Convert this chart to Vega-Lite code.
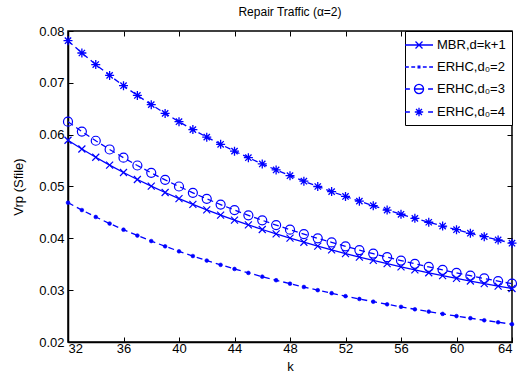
{
  "$schema": "https://vega.github.io/schema/vega-lite/v6.json",
  "width": 444,
  "height": 311,
  "autosize": {"type": "none"},
  "padding": {"left": 68, "top": 31, "right": 6, "bottom": 34},
  "background": "white",
  "title": {"text": "Repair Traffic (α=2)", "fontSize": 12, "fontWeight": "normal", "font": "Liberation Sans", "color": "black", "offset": 6},
  "config": {
    "font": "Liberation Sans",
    "view": {"stroke": "black", "strokeWidth": 1.5},
    "axis": {"grid": false, "domainColor": "black", "domainWidth": 1.5, "tickColor": "black", "tickWidth": 1, "labelColor": "black", "labelFontSize": 13, "titleFontSize": 13, "titleFontWeight": "normal", "titleColor": "black", "labelFont": "Liberation Sans", "titleFont": "Liberation Sans", "tickSize": -5, "labelPadding": 9},
    "axisLeft": {"titleX": -43}
  },
  "data": {"values": [
    {"k":32,"s":"MBR,d=k+1","v":0.058929},{"k":33,"s":"MBR,d=k+1","v":0.057239},{"k":34,"s":"MBR,d=k+1","v":0.055644},{"k":35,"s":"MBR,d=k+1","v":0.054135},{"k":36,"s":"MBR,d=k+1","v":0.052707},{"k":37,"s":"MBR,d=k+1","v":0.051351},{"k":38,"s":"MBR,d=k+1","v":0.050064},{"k":39,"s":"MBR,d=k+1","v":0.04884},{"k":40,"s":"MBR,d=k+1","v":0.047674},{"k":41,"s":"MBR,d=k+1","v":0.046563},{"k":42,"s":"MBR,d=k+1","v":0.045503},{"k":43,"s":"MBR,d=k+1","v":0.044489},{"k":44,"s":"MBR,d=k+1","v":0.04352},{"k":45,"s":"MBR,d=k+1","v":0.042593},{"k":46,"s":"MBR,d=k+1","v":0.041704},{"k":47,"s":"MBR,d=k+1","v":0.040851},{"k":48,"s":"MBR,d=k+1","v":0.040033},{"k":49,"s":"MBR,d=k+1","v":0.039246},{"k":50,"s":"MBR,d=k+1","v":0.038491},{"k":51,"s":"MBR,d=k+1","v":0.037763},{"k":52,"s":"MBR,d=k+1","v":0.037063},{"k":53,"s":"MBR,d=k+1","v":0.036388},{"k":54,"s":"MBR,d=k+1","v":0.035737},{"k":55,"s":"MBR,d=k+1","v":0.03511},{"k":56,"s":"MBR,d=k+1","v":0.034504},{"k":57,"s":"MBR,d=k+1","v":0.033918},{"k":58,"s":"MBR,d=k+1","v":0.033352},{"k":59,"s":"MBR,d=k+1","v":0.032805},{"k":60,"s":"MBR,d=k+1","v":0.032275},{"k":61,"s":"MBR,d=k+1","v":0.031762},{"k":62,"s":"MBR,d=k+1","v":0.031266},{"k":63,"s":"MBR,d=k+1","v":0.030784},{"k":64,"s":"MBR,d=k+1","v":0.030317},
    {"k":32,"s":"ERHC,d₀=2","v":0.046875},{"k":33,"s":"ERHC,d₀=2","v":0.045455},{"k":34,"s":"ERHC,d₀=2","v":0.044118},{"k":35,"s":"ERHC,d₀=2","v":0.042857},{"k":36,"s":"ERHC,d₀=2","v":0.041667},{"k":37,"s":"ERHC,d₀=2","v":0.040541},{"k":38,"s":"ERHC,d₀=2","v":0.039474},{"k":39,"s":"ERHC,d₀=2","v":0.038462},{"k":40,"s":"ERHC,d₀=2","v":0.0375},{"k":41,"s":"ERHC,d₀=2","v":0.036585},{"k":42,"s":"ERHC,d₀=2","v":0.035714},{"k":43,"s":"ERHC,d₀=2","v":0.034884},{"k":44,"s":"ERHC,d₀=2","v":0.034091},{"k":45,"s":"ERHC,d₀=2","v":0.033333},{"k":46,"s":"ERHC,d₀=2","v":0.032609},{"k":47,"s":"ERHC,d₀=2","v":0.031915},{"k":48,"s":"ERHC,d₀=2","v":0.03125},{"k":49,"s":"ERHC,d₀=2","v":0.030612},{"k":50,"s":"ERHC,d₀=2","v":0.03},{"k":51,"s":"ERHC,d₀=2","v":0.029412},{"k":52,"s":"ERHC,d₀=2","v":0.028846},{"k":53,"s":"ERHC,d₀=2","v":0.028302},{"k":54,"s":"ERHC,d₀=2","v":0.027778},{"k":55,"s":"ERHC,d₀=2","v":0.027273},{"k":56,"s":"ERHC,d₀=2","v":0.026786},{"k":57,"s":"ERHC,d₀=2","v":0.026316},{"k":58,"s":"ERHC,d₀=2","v":0.025862},{"k":59,"s":"ERHC,d₀=2","v":0.025424},{"k":60,"s":"ERHC,d₀=2","v":0.025},{"k":61,"s":"ERHC,d₀=2","v":0.02459},{"k":62,"s":"ERHC,d₀=2","v":0.024194},{"k":63,"s":"ERHC,d₀=2","v":0.02381},{"k":64,"s":"ERHC,d₀=2","v":0.023438},
    {"k":32,"s":"ERHC,d₀=3","v":0.0625},{"k":33,"s":"ERHC,d₀=3","v":0.060606},{"k":34,"s":"ERHC,d₀=3","v":0.058824},{"k":35,"s":"ERHC,d₀=3","v":0.057143},{"k":36,"s":"ERHC,d₀=3","v":0.055556},{"k":37,"s":"ERHC,d₀=3","v":0.054054},{"k":38,"s":"ERHC,d₀=3","v":0.052632},{"k":39,"s":"ERHC,d₀=3","v":0.051282},{"k":40,"s":"ERHC,d₀=3","v":0.05},{"k":41,"s":"ERHC,d₀=3","v":0.04878},{"k":42,"s":"ERHC,d₀=3","v":0.047619},{"k":43,"s":"ERHC,d₀=3","v":0.046512},{"k":44,"s":"ERHC,d₀=3","v":0.045455},{"k":45,"s":"ERHC,d₀=3","v":0.044444},{"k":46,"s":"ERHC,d₀=3","v":0.043478},{"k":47,"s":"ERHC,d₀=3","v":0.042553},{"k":48,"s":"ERHC,d₀=3","v":0.041667},{"k":49,"s":"ERHC,d₀=3","v":0.040816},{"k":50,"s":"ERHC,d₀=3","v":0.04},{"k":51,"s":"ERHC,d₀=3","v":0.039216},{"k":52,"s":"ERHC,d₀=3","v":0.038462},{"k":53,"s":"ERHC,d₀=3","v":0.037736},{"k":54,"s":"ERHC,d₀=3","v":0.037037},{"k":55,"s":"ERHC,d₀=3","v":0.036364},{"k":56,"s":"ERHC,d₀=3","v":0.035714},{"k":57,"s":"ERHC,d₀=3","v":0.035088},{"k":58,"s":"ERHC,d₀=3","v":0.034483},{"k":59,"s":"ERHC,d₀=3","v":0.033898},{"k":60,"s":"ERHC,d₀=3","v":0.033333},{"k":61,"s":"ERHC,d₀=3","v":0.032787},{"k":62,"s":"ERHC,d₀=3","v":0.032258},{"k":63,"s":"ERHC,d₀=3","v":0.031746},{"k":64,"s":"ERHC,d₀=3","v":0.03125},
    {"k":32,"s":"ERHC,d₀=4","v":0.078125},{"k":33,"s":"ERHC,d₀=4","v":0.075758},{"k":34,"s":"ERHC,d₀=4","v":0.073529},{"k":35,"s":"ERHC,d₀=4","v":0.071429},{"k":36,"s":"ERHC,d₀=4","v":0.069444},{"k":37,"s":"ERHC,d₀=4","v":0.067568},{"k":38,"s":"ERHC,d₀=4","v":0.065789},{"k":39,"s":"ERHC,d₀=4","v":0.064103},{"k":40,"s":"ERHC,d₀=4","v":0.0625},{"k":41,"s":"ERHC,d₀=4","v":0.060976},{"k":42,"s":"ERHC,d₀=4","v":0.059524},{"k":43,"s":"ERHC,d₀=4","v":0.05814},{"k":44,"s":"ERHC,d₀=4","v":0.056818},{"k":45,"s":"ERHC,d₀=4","v":0.055556},{"k":46,"s":"ERHC,d₀=4","v":0.054348},{"k":47,"s":"ERHC,d₀=4","v":0.053191},{"k":48,"s":"ERHC,d₀=4","v":0.052083},{"k":49,"s":"ERHC,d₀=4","v":0.05102},{"k":50,"s":"ERHC,d₀=4","v":0.05},{"k":51,"s":"ERHC,d₀=4","v":0.04902},{"k":52,"s":"ERHC,d₀=4","v":0.048077},{"k":53,"s":"ERHC,d₀=4","v":0.04717},{"k":54,"s":"ERHC,d₀=4","v":0.046296},{"k":55,"s":"ERHC,d₀=4","v":0.045455},{"k":56,"s":"ERHC,d₀=4","v":0.044643},{"k":57,"s":"ERHC,d₀=4","v":0.04386},{"k":58,"s":"ERHC,d₀=4","v":0.043103},{"k":59,"s":"ERHC,d₀=4","v":0.042373},{"k":60,"s":"ERHC,d₀=4","v":0.041667},{"k":61,"s":"ERHC,d₀=4","v":0.040984},{"k":62,"s":"ERHC,d₀=4","v":0.040323},{"k":63,"s":"ERHC,d₀=4","v":0.039683},{"k":64,"s":"ERHC,d₀=4","v":0.039063}
  ]},
  "layer": [
    {
      "transform": [{"filter": "datum.s === 'MBR,d=k+1'"}],
      "mark": {"type": "line", "color": "#0000ff", "strokeWidth": 1.3},
      "encoding": {
        "x": {"field": "k", "type": "quantitative", "scale": {"domain": [32, 64], "nice": false, "zero": false}, "axis": {"orient": "bottom", "values": [32,36,40,44,48,52,56,60,64], "title": "k", "titlePadding": 5, "labelPadding": 5}},
        "y": {"field": "v", "type": "quantitative", "scale": {"domain": [0.02, 0.08], "nice": false, "zero": false}, "axis": {"orient": "left", "values": [0.02,0.03,0.04,0.05,0.06,0.07,0.08], "format": ".2f", "title": "Vrp (Sfile)"}}
      }
    },
    {
      "transform": [{"filter": "datum.s !== 'MBR,d=k+1'"}],
      "mark": {"type": "line", "color": "#0000ff", "strokeWidth": 1.3, "strokeDash": [6, 4]},
      "encoding": {
        "x": {"field": "k", "type": "quantitative", "axis": null},
        "y": {"field": "v", "type": "quantitative", "axis": null},
        "detail": {"field": "s"}
      }
    },
    {
      "transform": [{"filter": "datum.s === 'MBR,d=k+1'"}],
      "mark": {"type": "point", "shape": "M-1,-1L1,1M-1,1L1,-1", "size": 49, "stroke": "#0000ff", "strokeWidth": 1.2, "filled": false, "opacity": 1},
      "encoding": {
        "x": {"field": "k", "type": "quantitative", "axis": {"orient": "top", "values": [32,36,40,44,48,52,56,60,64], "labels": false, "title": null, "domain": false}},
        "y": {"field": "v", "type": "quantitative", "axis": {"orient": "right", "values": [0.02,0.03,0.04,0.05,0.06,0.07,0.08], "labels": false, "title": null, "domain": false}}
      }
    },
    {
      "transform": [{"filter": "datum.s === 'ERHC,d₀=2'"}],
      "mark": {"type": "point", "shape": "circle", "size": 14, "fill": "#0000ff", "stroke": "#0000ff", "strokeWidth": 0.6, "filled": true, "opacity": 1},
      "encoding": {
        "x": {"field": "k", "type": "quantitative", "axis": null},
        "y": {"field": "v", "type": "quantitative", "axis": null}
      }
    },
    {
      "transform": [{"filter": "datum.s === 'ERHC,d₀=3'"}],
      "mark": {"type": "point", "shape": "circle", "size": 81, "stroke": "#0000ff", "strokeWidth": 1.2, "filled": false, "opacity": 1},
      "encoding": {
        "x": {"field": "k", "type": "quantitative", "axis": null},
        "y": {"field": "v", "type": "quantitative", "axis": null}
      }
    },
    {
      "transform": [{"filter": "datum.s === 'ERHC,d₀=4'"}],
      "mark": {"type": "point", "shape": "M0,-1L0,1M-1,0L1,0M-0.7,-0.7L0.7,0.7M-0.7,0.7L0.7,-0.7", "size": 81, "stroke": "#0000ff", "strokeWidth": 1.3, "filled": false, "opacity": 1},
      "encoding": {
        "x": {"field": "k", "type": "quantitative", "axis": null},
        "y": {"field": "v", "type": "quantitative", "axis": null}
      }
    },
    {
      "transform": [{"filter": "datum.k === 32"}],
      "mark": {"type": "point", "color": "#0000ff", "filled": false, "strokeWidth": 1.3, "opacity": 0},
      "encoding": {
        "x": {"field": "k", "type": "quantitative", "axis": null},
        "y": {"field": "v", "type": "quantitative", "axis": null},
        "shape": {"field": "s", "type": "nominal",
          "scale": {"domain": ["MBR,d=k+1","ERHC,d₀=2","ERHC,d₀=3","ERHC,d₀=4"],
            "range": [
              "M-2,0H2M-0.5,-0.5L0.5,0.5M-0.5,0.5L0.5,-0.5",
              "M-2,0H-1.45M-1.1,0H-0.55M0.55,0H1.1M1.45,0H2M-0.12,-0.12H0.12V0.12H-0.12Z",
              "M-2,0H-1.3M-0.65,0H0.65M1.3,0H2M-0.65,0A0.65,0.65 0 1,1 0.65,0A0.65,0.65 0 1,1 -0.65,0",
              "M-2,0H-1.3M1.3,0H2M0,-0.6L0,0.6M-0.6,0L0.6,0M-0.42,-0.42L0.42,0.42M-0.42,0.42L0.42,-0.42"
            ]},
          "legend": {
            "title": null, "orient": "top-right", "offset": 0, "padding": 6,
            "strokeColor": "black", "fillColor": "white",
            "labelFontSize": 13, "labelColor": "black", "labelFont": "Liberation Sans",
            "symbolSize": 196, "symbolOpacity": 1, "symbolStrokeColor": "#0000ff", "symbolFillColor": "transparent", "symbolStrokeWidth": 1.3,
            "labelOffset": 10, "rowPadding": 7
          }
        }
      }
    }
  ],
  "resolve": {"axis": {"x": "independent", "y": "independent"}}
}
